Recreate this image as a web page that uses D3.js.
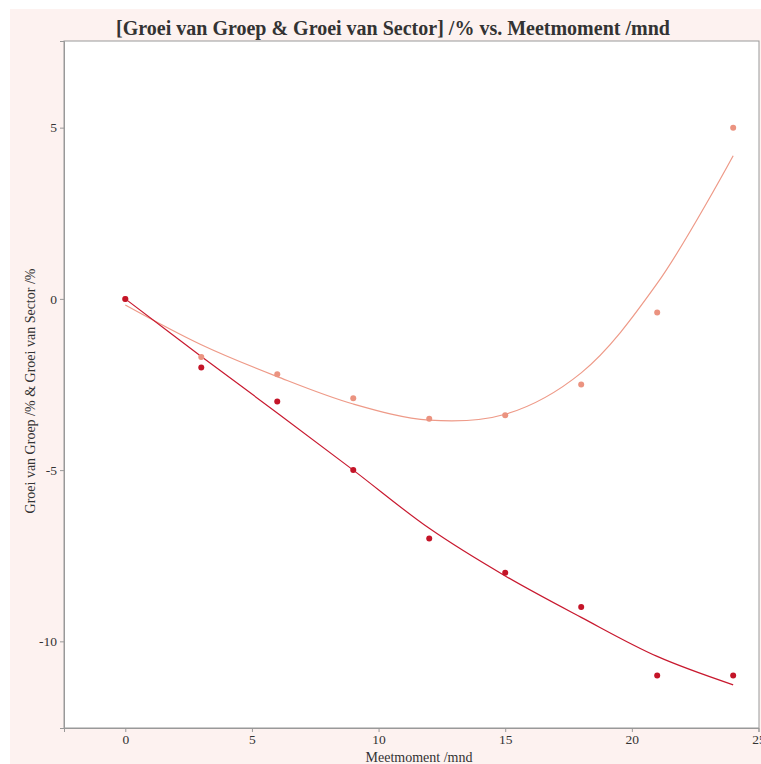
<!DOCTYPE html>
<html>
<head>
<meta charset="utf-8">
<script src="https://cdn.jsdelivr.net/npm/d3@7"></script>
<style>
  body { margin: 0; background: #ffffff; }
  text { font-family: "Liberation Serif", "DejaVu Serif", serif; fill: #333; }
</style>
</head>
<body>
<div id="chart"></div>
<script>
// Data
var months = [0, 3, 6, 9, 12, 15, 18, 21, 24];
var groep = [0, -2, -3, -5, -7, -8, -9, -11, -11];
var sector = [0, -1.7, -2.2, -2.9, -3.5, -3.4, -2.5, -0.4, 5.0];
// smoothed fit values at the same months
var groepFit = [0, -1.68, -3.33, -5.0, -6.7, -8.09, -9.3, -10.44, -11.27];
var sectorFit = [-0.18, -1.34, -2.27, -3.07, -3.54, -3.37, -2.16, 0.45, 4.18];
var xTicks = [0, 5, 10, 15, 20, 25];
var yTicks = [-10, -5, 0, 5];

var svgWidth = 761;
var svgHeight = 764;

var margin = {
  top: 41,
  right: 2,
  bottom: 36,
  left: 64
};

var width = svgWidth - margin.left - margin.right;
var height = svgHeight - margin.top - margin.bottom;

var svg = d3.select("#chart")
  .append("svg")
  .attr("width", svgWidth)
  .attr("height", svgHeight)
  .style("overflow", "visible");

// pink panel
svg.append("rect")
  .attr("x", 10)
  .attr("y", 9)
  .attr("width", svgWidth - 10)
  .attr("height", svgHeight - 9)
  .attr("fill", "#fdf2f0");

var chartGroup = svg.append("g")
  .attr("transform", `translate(${margin.left}, ${margin.top})`);

chartGroup.append("rect")
  .attr("width", width)
  .attr("height", height)
  .attr("fill", "#ffffff")
  .attr("stroke", "#999")
  .attr("stroke-width", 1);

var xLinearScale = d3.scaleLinear()
  .domain([-2.42, 25])
  .range([0, width - 0.5]);

var yLinearScale = d3.scaleLinear()
  .domain([-12.53, 7.53])
  .range([height, 0]);

// minor ticks
var xMinor = d3.range(-2.5, 25.01, 2.5).filter(d => d >= -2.42);
var yMinor = d3.range(-12.5, 7.51, 2.5);

var bottomAxis = d3.axisBottom(xLinearScale)
  .tickValues(xTicks)
  .tickSize(4)
  .tickFormat(d3.format("d"));

var leftAxis = d3.axisLeft(yLinearScale)
  .tickValues(yTicks)
  .tickSize(4)
  .tickFormat(d => d < 0 ? "-" + Math.abs(d) : String(d));

var xAxis = chartGroup.append("g")
  .attr("transform", `translate(0, ${height})`)
  .call(d3.axisBottom(xLinearScale).tickValues(xMinor).tickSize(4).tickFormat(""))
  .call(bottomAxis);

var yAxis = chartGroup.append("g")
  .call(d3.axisLeft(yLinearScale).tickValues(yMinor).tickSize(4).tickFormat(""))
  .call(leftAxis);

[xAxis, yAxis].forEach(function(ax) {
  ax.selectAll(".domain").attr("stroke", "#999");
  ax.selectAll(".tick line").attr("stroke", "#999");
  ax.selectAll(".tick text")
    .style("font-family", "'Liberation Serif', serif")
    .style("font-size", "13.5px")
    .attr("fill", "#333");
});
xAxis.selectAll(".tick text").attr("y", 5).attr("dy", "0.8em");

// fitted curves
var lineGen = d3.line()
  .x(d => xLinearScale(d[0]))
  .y(d => yLinearScale(d[1]))
  .curve(d3.curveCatmullRom.alpha(0.5));

chartGroup.append("path")
  .datum(months.map((m, i) => [m, sectorFit[i]]))
  .attr("d", lineGen)
  .attr("fill", "none")
  .attr("stroke", "#ee9a88")
  .attr("stroke-width", 1.2);

chartGroup.append("path")
  .datum(months.map((m, i) => [m, groepFit[i]]))
  .attr("d", lineGen)
  .attr("fill", "none")
  .attr("stroke", "#c8192f")
  .attr("stroke-width", 1.2);

// points
chartGroup.selectAll("circle.sector")
  .data(months.map((m, i) => [m, sector[i]]))
  .enter()
  .append("circle")
  .attr("class", "sector")
  .attr("cx", d => xLinearScale(d[0]))
  .attr("cy", d => yLinearScale(d[1]))
  .attr("r", 3)
  .attr("fill", "#eb9380");

chartGroup.selectAll("circle.groep")
  .data(months.map((m, i) => [m, groep[i]]))
  .enter()
  .append("circle")
  .attr("class", "groep")
  .attr("cx", d => xLinearScale(d[0]))
  .attr("cy", d => yLinearScale(d[1]))
  .attr("r", 3)
  .attr("fill", "#c41428");

// title and axis labels
svg.append("text")
  .attr("x", 393)
  .attr("y", 35)
  .attr("text-anchor", "middle")
  .style("font-size", "20px")
  .style("font-weight", "bold")
  .attr("fill", "#111")
  .text("[Groei van Groep & Groei van Sector] /% vs. Meetmoment /mnd");

svg.append("text")
  .attr("x", 419)
  .attr("y", 762)
  .attr("text-anchor", "middle")
  .style("font-size", "14px")
  .text("Meetmoment /mnd");

svg.append("text")
  .attr("transform", "rotate(-90)")
  .attr("x", -391)
  .attr("y", 35)
  .attr("text-anchor", "middle")
  .style("font-size", "14px")
  .text("Groei van Groep /% & Groei van Sector /%");
</script>
</body>
</html>
